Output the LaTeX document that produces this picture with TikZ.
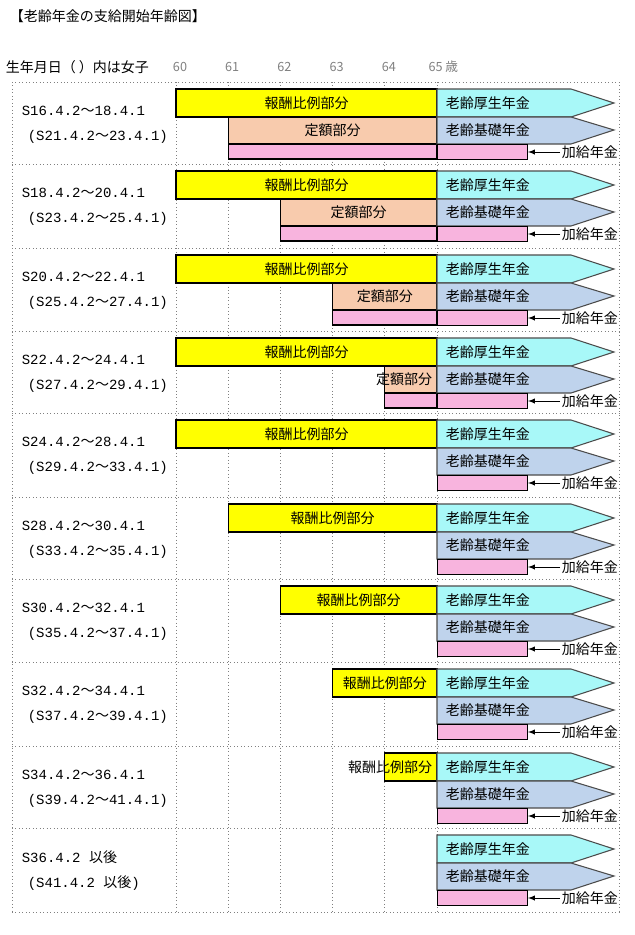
\documentclass[tikz,border=0pt]{standalone}
\usepackage{fontspec}
\setmainfont{Noto Sans CJK JP}
\newfontfamily\datefont{Liberation Mono}
\newfontfamily\cjk{Noto Sans CJK JP}
\definecolor{hiYel}{HTML}{FFFF00}
\definecolor{teiOra}{HTML}{F8CBAD}
\definecolor{kouCya}{HTML}{A8F8F8}
\definecolor{kisBlu}{HTML}{BFD3EC}
\definecolor{kaPin}{HTML}{F8B4DE}
\tikzset{every picture/.style={line width=0.75pt}}
\tikzset{
  grid line/.style={gray, dotted, line width=0.6pt},
  bar/.style={draw=black, line width=0.8pt},
  pent/.style={draw=black!70, line width=0.8pt},
  lbl/.style={font=\fontsize{10.5pt}{12pt}\selectfont, inner sep=1pt},
  agel/.style={font=\fontsize{9.5pt}{11pt}\selectfont, text=gray, inner sep=0pt},
}
\newcommand{\wv}{{\cjk 〜}}
\begin{document}
\begin{tikzpicture}[x=0.75pt,y=0.75pt,yscale=-1,xscale=1]
\useasboundingbox (0,0) rectangle (635,935);

% Title and header
\node[lbl, anchor=west] (title) at (8,16) {【老齢年金の支給開始年齢図】};
\node[lbl, anchor=west] (head) at (4,67) {生年月日（ ）内は女子};
\foreach \a in {60,...,64}
  \node[agel] (age\a) at ({176+(\a-60)*52.2+4},67) {\a};
\node[agel, anchor=west] (age65) at (428,67) {65 歳};

% Frame
\foreach \y in {82,164,248,331,413,497,579,662,746,828,912}
  \draw[grid line] (12,\y) -- (619,\y);
\foreach \x in {12,176,228.2,280.4,332.6,384.8,437,619}
  \draw[grid line] (\x,82) -- (\x,912);

% Rows
\foreach \r/\T/\ys/\os/\la/\lb in {
  1/82/60/61/{S16.4.2\wv 18.4.1}/{(S21.4.2\wv 23.4.1)},
  2/164/60/62/{S18.4.2\wv 20.4.1}/{(S23.4.2\wv 25.4.1)},
  3/248/60/63/{S20.4.2\wv 22.4.1}/{(S25.4.2\wv 27.4.1)},
  4/331/60/64/{S22.4.2\wv 24.4.1}/{(S27.4.2\wv 29.4.1)},
  5/413/60/0/{S24.4.2\wv 28.4.1}/{(S29.4.2\wv 33.4.1)},
  6/497/61/0/{S28.4.2\wv 30.4.1}/{(S33.4.2\wv 35.4.1)},
  7/579/62/0/{S30.4.2\wv 32.4.1}/{(S35.4.2\wv 37.4.1)},
  8/662/63/0/{S32.4.2\wv 34.4.1}/{(S37.4.2\wv 39.4.1)},
  9/746/64/0/{S34.4.2\wv 36.4.1}/{(S39.4.2\wv 41.4.1)},
  10/828/0/0/{S36.4.2 {\cjk 以後}}/{(S41.4.2 {\cjk 以後})}}{
  \node[lbl, anchor=west, font=\datefont\fontsize{10.5pt}{12pt}\selectfont] (da\r) at (20,\T+29) {\la};
  \node[lbl, anchor=west, font=\datefont\fontsize{10.5pt}{12pt}\selectfont] (db\r) at (26,\T+55) {\lb};
  % yellow part
  \ifnum\ys>0
    \pgfmathsetmacro{\xs}{176+(\ys-60)*52.2}
    \draw[bar, fill=hiYel] (\xs,\T+7) rectangle (437,\T+35);
    \ifnum\ys<64
      \node[lbl] (hi\r) at ({(\xs+437)/2},\T+21) {報酬比例部分};
    \else
      \node[lbl, anchor=east] (hi\r) at (434,\T+21) {報酬比例部分};
    \fi
  \fi
  % orange part
  \ifnum\os>0
    \pgfmathsetmacro{\xo}{176+(\os-60)*52.2}
    \draw[bar, fill=teiOra] (\xo,\T+35) rectangle (437,\T+62);
    \draw[bar, fill=kaPin] (\xo,\T+62) rectangle (437,\T+77);
    \ifnum\os<64
      \node[lbl] (te\r) at ({(\xo+437)/2},\T+48) {定額部分};
    \else
      \node[lbl, anchor=east] (te\r) at (434,\T+48) {定額部分};
    \fi
  \fi
  % pensions from 65
  \draw[pent, fill=kouCya] (437,\T+7) -- (571,\T+7) -- (614,\T+21) -- (571,\T+35) -- (437,\T+35) -- cycle;
  \draw[pent, fill=kisBlu] (437,\T+35) -- (571,\T+35) -- (614,\T+48) -- (571,\T+62) -- (437,\T+62) -- cycle;
  \node[lbl, anchor=west] (ko\r) at (444,\T+21) {老齢厚生年金};
  \node[lbl, anchor=west] (ki\r) at (444,\T+48) {老齢基礎年金};
  \node[bar, fill=kaPin, minimum width=90pt*0.75, minimum height=15pt*0.75, inner sep=0pt, anchor=north west] (pk\r) at (437,\T+62) {};
  \node[lbl, anchor=west] (ka\r) at (560,\T+70) {加給年金};
  \draw[-latex] (ka\r.west) -- (pk\r.east |- ka\r.west);
}
\end{tikzpicture}
\end{document}
